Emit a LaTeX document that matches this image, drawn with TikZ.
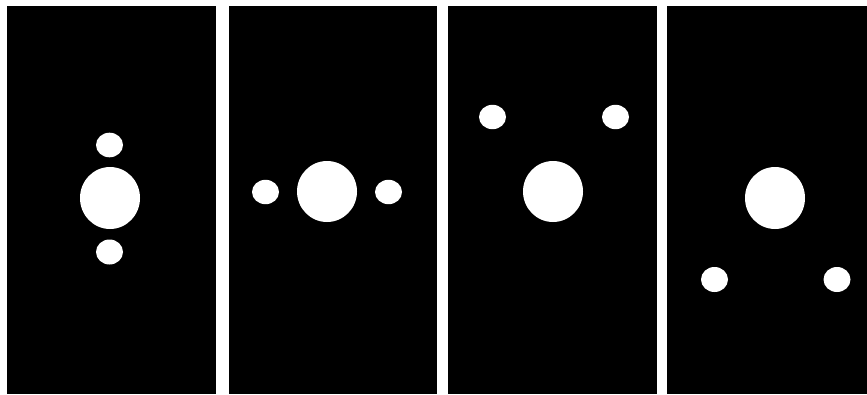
\documentclass[tikz,border=0pt]{standalone}
\begin{document}
\begin{tikzpicture}[x=1pt,y=-1pt,
  panel/.style={fill=black,draw=none},
  bigdot/.style={fill=white,draw=none},
  smalldot/.style={fill=white,draw=none}]
\fill[white] (0,0) rectangle (867,394);
\useasboundingbox (0,0) rectangle (867,394);
% panels
\path[panel] (7,6) rectangle (216,394);
\path[panel] (229,6) rectangle (437,394);
\path[panel] (448,6) rectangle (657,394);
\path[panel] (667,6) rectangle (867,394);
% panel 1
\path[bigdot] (110,198) ellipse [x radius=30, y radius=31];
\path[smalldot] (109.5,145) ellipse [x radius=13.5, y radius=12.3];
\path[smalldot] (109.5,252) ellipse [x radius=13.5, y radius=12.5];
% panel 2
\path[bigdot] (327,191.5) ellipse [x radius=30, y radius=30.5];
\path[smalldot] (265.5,192) ellipse [x radius=13.5, y radius=12.2];
\path[smalldot] (388.5,192) ellipse [x radius=13.5, y radius=12.2];
% panel 3
\path[bigdot] (553,191.5) ellipse [x radius=30, y radius=30.5];
\path[smalldot] (492.5,117) ellipse [x radius=13.5, y radius=12.2];
\path[smalldot] (615.5,117) ellipse [x radius=13.5, y radius=12.2];
% panel 4
\path[bigdot] (775,198) ellipse [x radius=30, y radius=31];
\path[smalldot] (714.5,279.5) ellipse [x radius=13.5, y radius=12.5];
\path[smalldot] (837,279.5) ellipse [x radius=13.5, y radius=12.5];
\end{tikzpicture}
\end{document}
